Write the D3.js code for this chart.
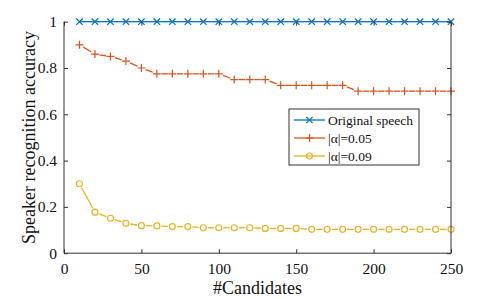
<!DOCTYPE html>
<html><head><meta charset="utf-8">
<script src="https://cdn.jsdelivr.net/npm/d3@7"></script>
<style>body{margin:0;background:#fff}svg{display:block}
svg text{font-family:"Liberation Serif","Times New Roman",Times,"DejaVu Serif",serif;}</style>
</head><body>
<svg id="c" width="498" height="299"></svg>
<script>
const candidates = [10,20,30,40,50,60,70,80,90,100,110,120,130,140,150,160,170,180,190,200,210,220,230,240,250];
const originalSpeech = [1,1,1,1,1,1,1,1,1,1,1,1,1,1,1,1,1,1,1,1,1,1,1,1,1];
const alpha005 = [0.90,0.86,0.85,0.83,0.80,0.775,0.775,0.775,0.775,0.775,0.75,0.75,0.75,0.725,0.725,0.725,0.725,0.725,0.70,0.70,0.70,0.70,0.70,0.70,0.70];
const alpha009 = [0.30,0.177,0.151,0.129,0.119,0.118,0.115,0.115,0.11,0.11,0.11,0.11,0.107,0.107,0.107,0.103,0.103,0.103,0.103,0.103,0.103,0.103,0.103,0.103,0.103];
const seriesNames = ["Original speech","|\u03b1|=0.05","|\u03b1|=0.09"];
const xTicks = [0,50,100,150,200,250];
const yTicks = [0,0.2,0.4,0.6,0.8,1];
const xLabel = "#Candidates";
const yLabel = "Speaker recognition accuracy";

const svg = d3.select("#c");
const L=64, R=451, T=21.7, B=253.2;
const x = d3.scaleLinear().domain([0,250]).range([L,R]);
const y = d3.scaleLinear().domain([0,1]).range([B,T]);
const font = '"Liberation Serif","Times New Roman",Times,serif';
const axisCol = "#333333";

const series = [
  {name: seriesNames[0], vals: originalSpeech, color: "#0072BD", marker: "x"},
  {name: seriesNames[1], vals: alpha005, color: "#D95319", marker: "plus"},
  {name: seriesNames[2], vals: alpha009, color: "#EDB120", marker: "o"}
];

function drawMarker(sel, type, cx, cy, color) {
  const s = 3.2;
  if (type === "x") {
    sel.append("path").attr("d",`M${cx-s},${cy-s}L${cx+s},${cy+s}M${cx-s},${cy+s}L${cx+s},${cy-s}`)
      .attr("stroke",color).attr("stroke-width",1.2).attr("fill","none");
  } else if (type === "plus") {
    const p = 4;
    sel.append("path").attr("d",`M${cx-p},${cy}L${cx+p},${cy}M${cx},${cy-p}L${cx},${cy+p}`)
      .attr("stroke",color).attr("stroke-width",1.2).attr("fill","none");
  } else {
    sel.append("circle").attr("cx",cx).attr("cy",cy).attr("r",3).attr("fill","none")
      .attr("stroke",color).attr("stroke-width",1.2);
  }
}
function gapSegments(sel, pts, color, gap) {
  for (let i=0;i<pts.length-1;i++){
    const [x1,y1]=pts[i],[x2,y2]=pts[i+1];
    const dx=x2-x1, dy=y2-y1, len=Math.hypot(dx,dy);
    if (len <= 2*gap) continue;
    const ux=dx/len, uy=dy/len;
    sel.append("line").attr("x1",x1+ux*gap).attr("y1",y1+uy*gap)
      .attr("x2",x2-ux*gap).attr("y2",y2-uy*gap)
      .attr("stroke",color).attr("stroke-width",1.3);
  }
}
series.forEach(s => {
  const sg = svg.append("g");
  const pts = candidates.map((c,i)=>[x(c), y(s.vals[i])]);
  gapSegments(sg, pts, s.color, s.marker==="x" ? 0 : 4.5);
  pts.forEach(p => drawMarker(sg, s.marker, p[0], p[1], s.color));
});

const g = svg.append("g");
function tickAxis(axis, tx, ty) {
  const a = g.append("g").attr("transform", `translate(${tx},${ty})`).call(axis);
  a.attr("font-family", null).attr("font-size", null);
  a.select(".domain").remove();
  a.selectAll("line").attr("stroke", axisCol).attr("stroke-width",1);
  a.selectAll("text").style("font-family", font).style("font-size","15.5px").attr("fill","#111");
  return a;
}
const fmt = d => d3.format("")(d);
tickAxis(d3.axisBottom(x).tickValues(xTicks).tickSize(-4).tickPadding(10).tickFormat(fmt), 0, B);
tickAxis(d3.axisTop(x).tickValues(xTicks).tickSize(-4).tickFormat(""), 0, T);
tickAxis(d3.axisLeft(y).tickValues(yTicks).tickSize(-4).tickPadding(7).tickFormat(fmt), L, 0);
tickAxis(d3.axisRight(y).tickValues(yTicks).tickSize(-4).tickFormat(""), R, 0);
g.append("path").attr("d",`M${L},${T}V${B}H${R}V${T}`)
  .attr("fill","none").attr("stroke",axisCol).attr("stroke-width",1);

svg.append("text").attr("x",(L+R)/2).attr("y",294).attr("text-anchor","middle")
  .style("font-family",font).style("font-size","18px").attr("fill","#111").text(xLabel);
svg.append("text").attr("transform",`translate(35,${(T+B)/2}) rotate(-90)`).attr("text-anchor","middle")
  .style("font-family",font).style("font-size","18px").attr("fill","#111").text(yLabel);

const lg = svg.append("g");
lg.append("rect").attr("x",289).attr("y",109).attr("width",130).attr("height",56)
  .attr("fill","#fff").attr("stroke",axisCol).attr("stroke-width",1);
series.forEach((s,i) => {
  const yy = 120 + i*18;
  lg.append("line").attr("x1",294).attr("x2",325).attr("y1",yy).attr("y2",yy)
    .attr("stroke",s.color).attr("stroke-width",1.3);
  drawMarker(lg, s.marker, 309.5, yy, s.color);
  lg.append("text").attr("x",328).attr("y",yy+4.5).style("font-family",font)
    .style("font-size","13.5px").attr("fill","#111").text(s.name);
});
</script>
</body></html>
